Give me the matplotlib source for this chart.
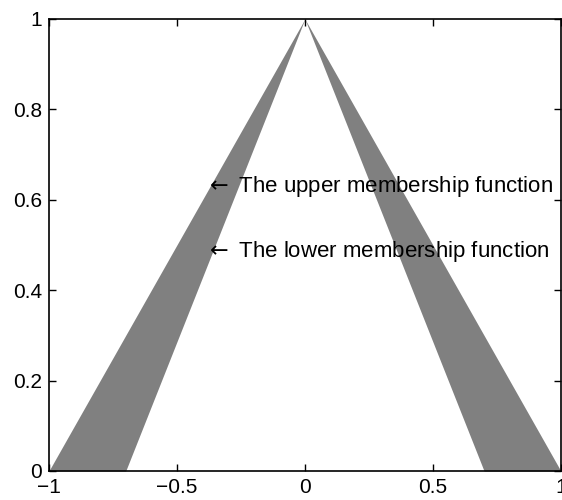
import numpy as np
import matplotlib.pyplot as plt

# Pontos da função de pertinência (tipo-2 intervalar)
x = [-1.0, -0.7, 0.0, 0.7, 1.0]
superior = [0.0, 0.3, 1.0, 0.3, 0.0]
inferior = [0.0, 0.0, 1.0, 0.0, 0.0]

xticks = [-1, -0.5, 0, 0.5, 1]
xticklabels = ['\u22121', '\u22120.5', '0', '0.5', '1']
yticks = [0, 0.2, 0.4, 0.6, 0.8, 1]
yticklabels = ['0', '0.2', '0.4', '0.6', '0.8', '1']

rotulos = ['The upper membership function', 'The lower membership function']
pos_rotulos = [(-0.39, 0.63), (-0.39, 0.485)]

fonte = ['Liberation Sans', 'DejaVu Sans']

fig = plt.figure(figsize=(5.62, 5.0), dpi=100)
ax = fig.add_axes([0.087, 0.058, 0.911, 0.904])

ax.fill_between(x, inferior, superior, color='#808080', linewidth=0)

# seta + texto (como o \leftarrow do matlab)
for txt, (px, py) in zip(rotulos, pos_rotulos):
    ax.text(px, py, r'$\leftarrow$ ' + txt, fontsize=16, family=fonte,
            va='center', ha='left')

ax.set_xlim(-1, 1)
ax.set_ylim(0, 1)
ax.set_xticks(xticks)
ax.set_xticklabels(xticklabels, family=fonte, fontsize=15)
ax.set_yticks(yticks)
ax.set_yticklabels(yticklabels, family=fonte, fontsize=15)
ax.tick_params(direction='in', top=True, right=True, length=5, width=1, pad=5)
for s in ax.spines.values():
    s.set_linewidth(1.2)

fig.savefig('out.png', dpi=100)
